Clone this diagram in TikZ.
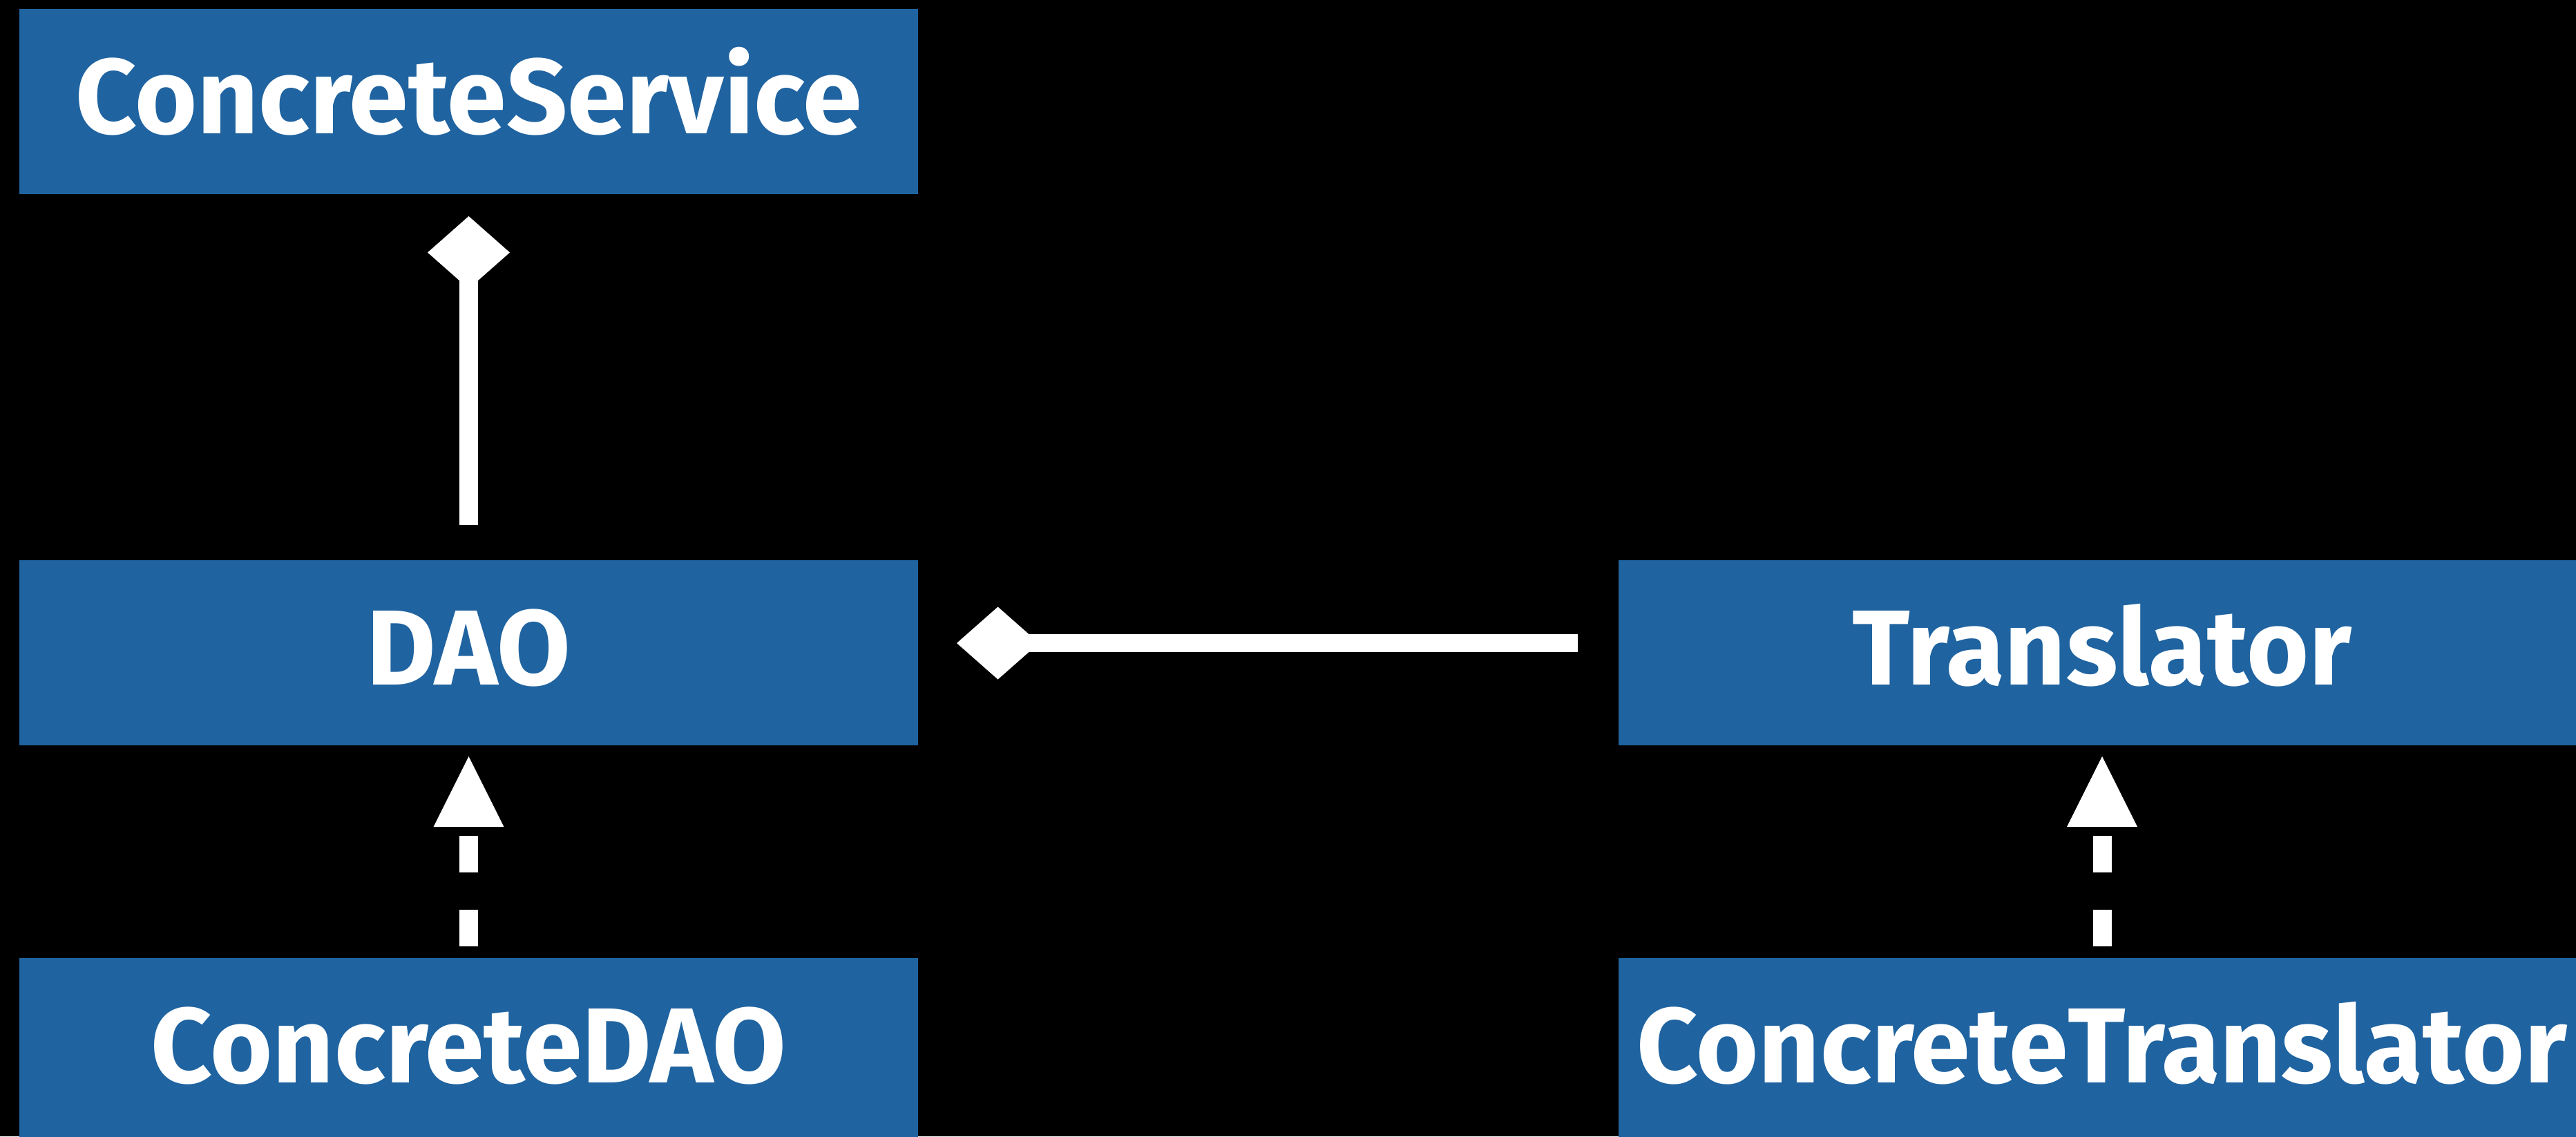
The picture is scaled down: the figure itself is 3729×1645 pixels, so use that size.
\documentclass[tikz,border=0pt]{standalone}
\usepackage{fontspec}
\setmainfont{Fira Sans}
\usetikzlibrary{arrows.meta}
\definecolor{boxblue}{RGB}{31,99,160}
\begin{document}
\begin{tikzpicture}[x=0.2pt,y=-0.2pt,
  cls/.style={rectangle, fill=boxblue, text=white, inner sep=0pt,
    minimum width=260.2pt, minimum height=53.6pt,
    text height=21.2pt, text depth=2.8pt,
    font=\fontsize{30.9}{32}\selectfont\bfseries},
  wide/.style={minimum width=280pt},
  realize/.style={draw=white, line width=5.4pt, dash pattern=on 10.6pt off 10.8pt,
    -{Triangle[length=20.4pt,width=20.4pt,line width=0pt]}},
  compose/.style={draw=white, line width=5.3pt,
    -{Diamond[length=23.8pt,width=21pt,line width=0pt]}},
  composev/.style={draw=white, line width=5.3pt,
    -{Diamond[length=21pt,width=23.8pt,line width=0pt]}}
]
\fill[black] (0,0) rectangle (3729,1645);
\useasboundingbox (0,0) rectangle (3729,1645);
\clip (0,0) rectangle (3729,1645);
\node[cls] (cs) at (678.5,147) {ConcreteService};
\node[cls] (dao) at (678.5,945) {DAO};
\node[cls] (cdao) at (678.5,1521) {ConcreteDAO};
\node[cls,wide] (tr) at (3043,945) {Translator};
\node[cls,wide] (ct) at (3043,1521) {ConcreteTranslator};
\draw[composev, shorten <=10pt, shorten >=6.2pt] (dao) -- (cs);
\draw[compose, shorten <=11.6pt, shorten >=11pt] ([yshift=2.8pt]tr.west) -- ([yshift=2.8pt]dao.east);
\draw[realize, shorten <=3.2pt, shorten >=3pt] (cdao) -- (dao);
\draw[realize, shorten <=3.2pt, shorten >=3pt] (ct) -- (tr);
\end{tikzpicture}
\end{document}
